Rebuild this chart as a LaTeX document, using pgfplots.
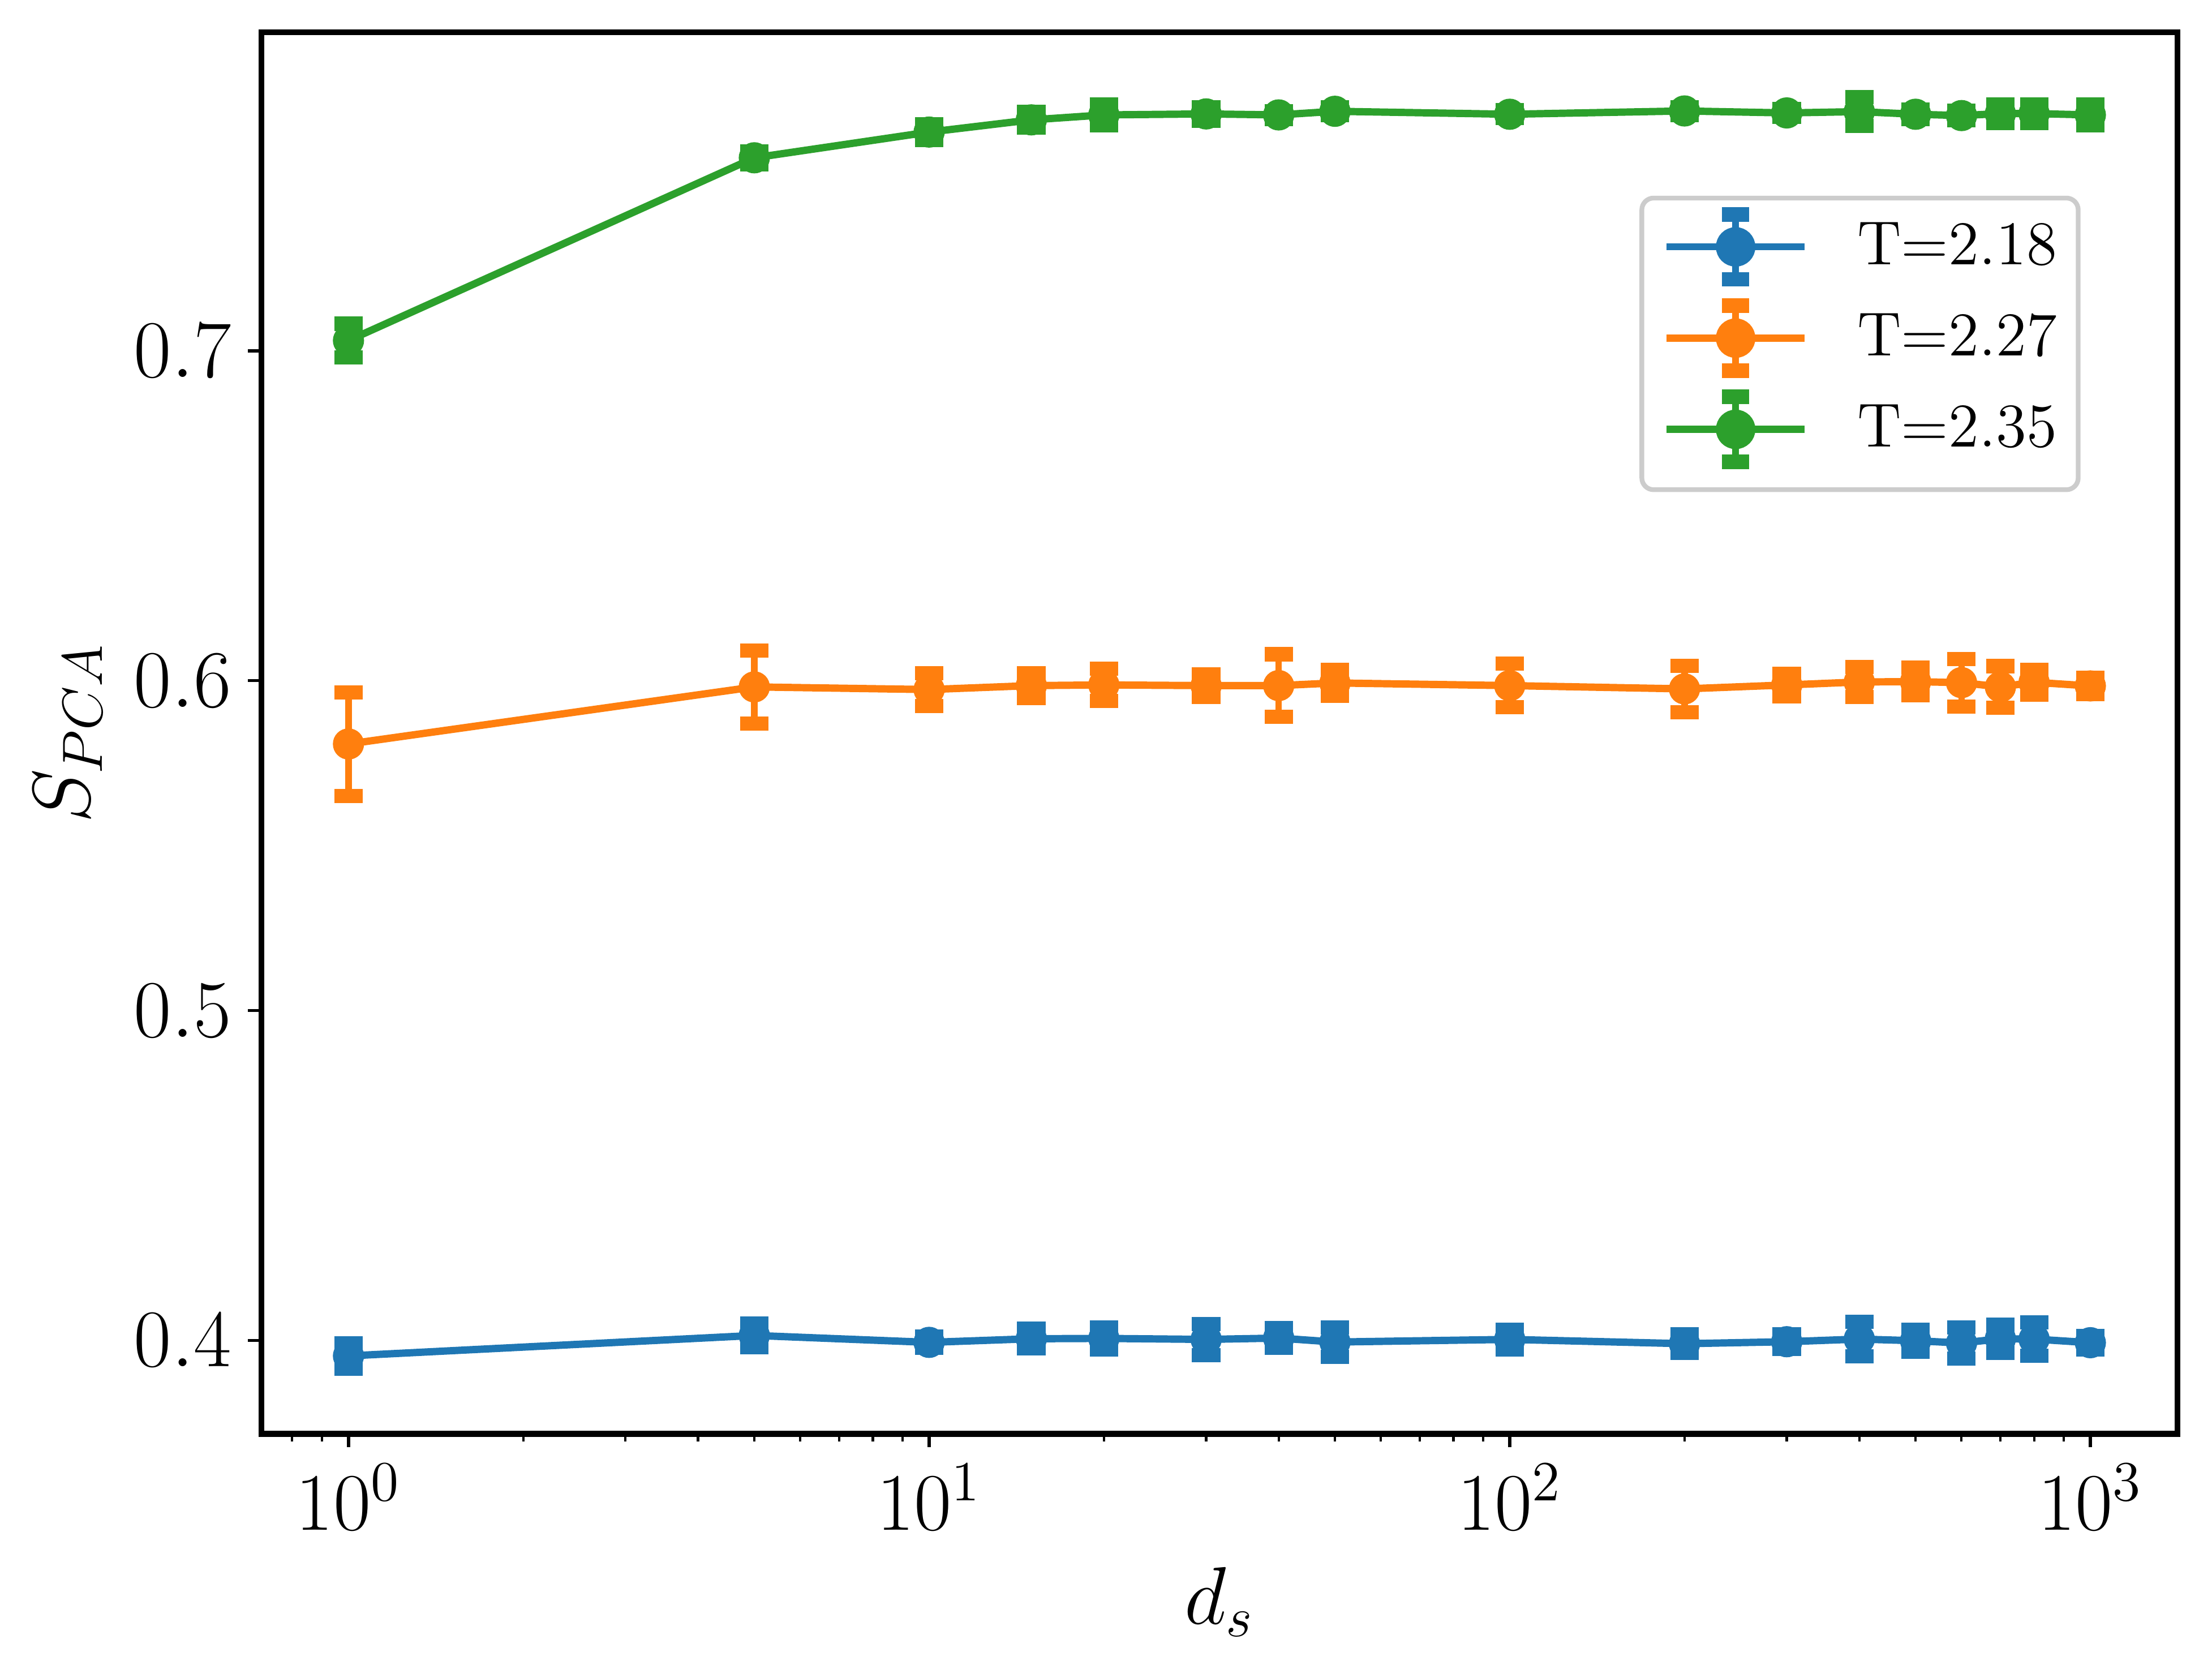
\documentclass[border=0pt]{standalone}
\usepackage{pgfplots}
\pgfplotsset{compat=1.18}
\usepackage{pgfplotstable}
\definecolor{tabblue}{HTML}{1F77B4}
\definecolor{taborange}{HTML}{FF7F0E}
\definecolor{tabgreen}{HTML}{2CA02C}

\pgfplotstableread{
x y e
1 0.3953 0.0039
5 0.4015 0.0036
10 0.3994 0.0017
15 0.4005 0.0030
20 0.4006 0.0033
30 0.4003 0.0047
40 0.4007 0.0030
50 0.3995 0.0045
100 0.4003 0.0030
200 0.3990 0.0028
300 0.3996 0.0022
400 0.4004 0.0052
500 0.3999 0.0033
600 0.3992 0.0047
700 0.4005 0.0043
800 0.4004 0.0050
1000 0.3993 0.0020
}\tblue

\pgfplotstableread{
x y e
1 0.5808 0.0157
5 0.5981 0.0111
10 0.5973 0.0050
15 0.5985 0.0037
20 0.5987 0.0049
30 0.5985 0.0034
40 0.5985 0.0095
50 0.5993 0.0039
100 0.5985 0.0066
200 0.5975 0.0070
300 0.5987 0.0034
400 0.5996 0.0045
500 0.5997 0.0042
600 0.5994 0.0072
700 0.5981 0.0063
800 0.5995 0.0037
1000 0.5984 0.0025
}\torange

\pgfplotstableread{
x y e
1 0.7031 0.0051
5 0.7585 0.0020
10 0.7663 0.0024
15 0.7700 0.0024
20 0.7715 0.0032
30 0.7718 0.0021
40 0.7715 0.0012
50 0.7726 0.0012
100 0.7717 0.0012
200 0.7727 0.0012
300 0.7721 0.0012
400 0.7725 0.0044
500 0.7717 0.0015
600 0.7713 0.0015
700 0.7719 0.0028
800 0.7719 0.0028
1000 0.7715 0.0032
}\tgreen

\pgfplotsset{
  myseries/.style={
    color=#1, line width=1.55pt, mark=*, mark size=3.1pt,
    mark options={solid, fill=#1, draw=#1, line width=0.4pt},
    error bars/y dir=both, error bars/y explicit,
    error bars/error mark=-,
    error bars/error bar style={line width=1.4pt, color=#1},
    error bars/error mark options={rotate=90, line width=3pt, mark size=3pt, color=#1},
    legend image code/.code={
      \draw[#1, line width=1.5pt] (0pt,0pt) -- (29.2pt,0pt);
      \draw[#1, line width=1.4pt] (14.6pt,-6.85pt) -- (14.6pt,6.85pt);
      \draw[#1, line width=3.1pt] (11.7pt,-6.85pt) -- (17.5pt,-6.85pt);
      \draw[#1, line width=3.1pt] (11.7pt,6.85pt) -- (17.5pt,6.85pt);
      \fill[#1] (14.6pt,0pt) circle (3.4pt);
      \path[draw=none, fill=none] (0pt,-10.87pt) rectangle (29.2pt,8.43pt);
    },
  },
}

\begin{document}
\begin{tikzpicture}
\begin{axis}[
  xmode=log, log basis x=10,
  width=405.4pt, height=296.5pt, scale only axis,
  xmin=0.708, xmax=1413, ymin=0.3717, ymax=0.7966,
  xtick={1,10,100,1000},
  minor xtick={0.8,0.9,2,3,4,5,6,7,8,9,20,30,40,50,60,70,80,90,200,300,400,500,600,700,800,900},
  ytick={0.4,0.5,0.6,0.7},
  yticklabel style={/pgf/number format/fixed, /pgf/number format/precision=1, /pgf/number format/fixed zerofill},
  tick align=outside, tick pos=left,
  major tick length=2.85pt, minor tick length=1.6pt,
  every major tick/.append style={black, line width=0.65pt},
  every minor tick/.append style={black, line width=0.5pt},
  axis line style={line width=1.25pt},
  tick label style={font=\fontsize{16.8}{20}\selectfont},
  xlabel={$d_s$}, ylabel={$S_{PCA}$},
  every axis x label/.style={at={(axis description cs:0.5,-0.12)}, anchor=center, font=\fontsize{16.8}{20}\selectfont},
  every axis y label/.style={at={(axis description cs:-0.101,0.5)}, anchor=center, rotate=90, font=\fontsize{16.8}{20}\selectfont},
  legend cell align=left,
  legend style={at={(axis description cs:0.9494,0.8833)}, anchor=north east,
    draw=black!20, line width=1pt, rounded corners=2.5pt, fill=white,
    font=\fontsize{13.15}{15.7}\selectfont,
    nodes={inner sep=0pt}, column sep=10.4pt,
    inner xsep=4.5pt, inner ysep=1.9pt},
]
\addplot+[myseries=tabblue] table[x=x, y=y, y error=e] {\tblue};
\addlegendentry{T=2.18\hspace{2pt}}
\addplot+[myseries=taborange] table[x=x, y=y, y error=e] {\torange};
\addlegendentry{T=2.27\hspace{2pt}}
\addplot+[myseries=tabgreen] table[x=x, y=y, y error=e] {\tgreen};
\addlegendentry{T=2.35\hspace{2pt}}
\end{axis}
\pgfresetboundingbox
\path ([xshift=-55.3pt,yshift=-49.7pt]current axis.south west) rectangle ([xshift=7.3pt,yshift=6.8pt]current axis.north east);
\end{tikzpicture}
\end{document}
